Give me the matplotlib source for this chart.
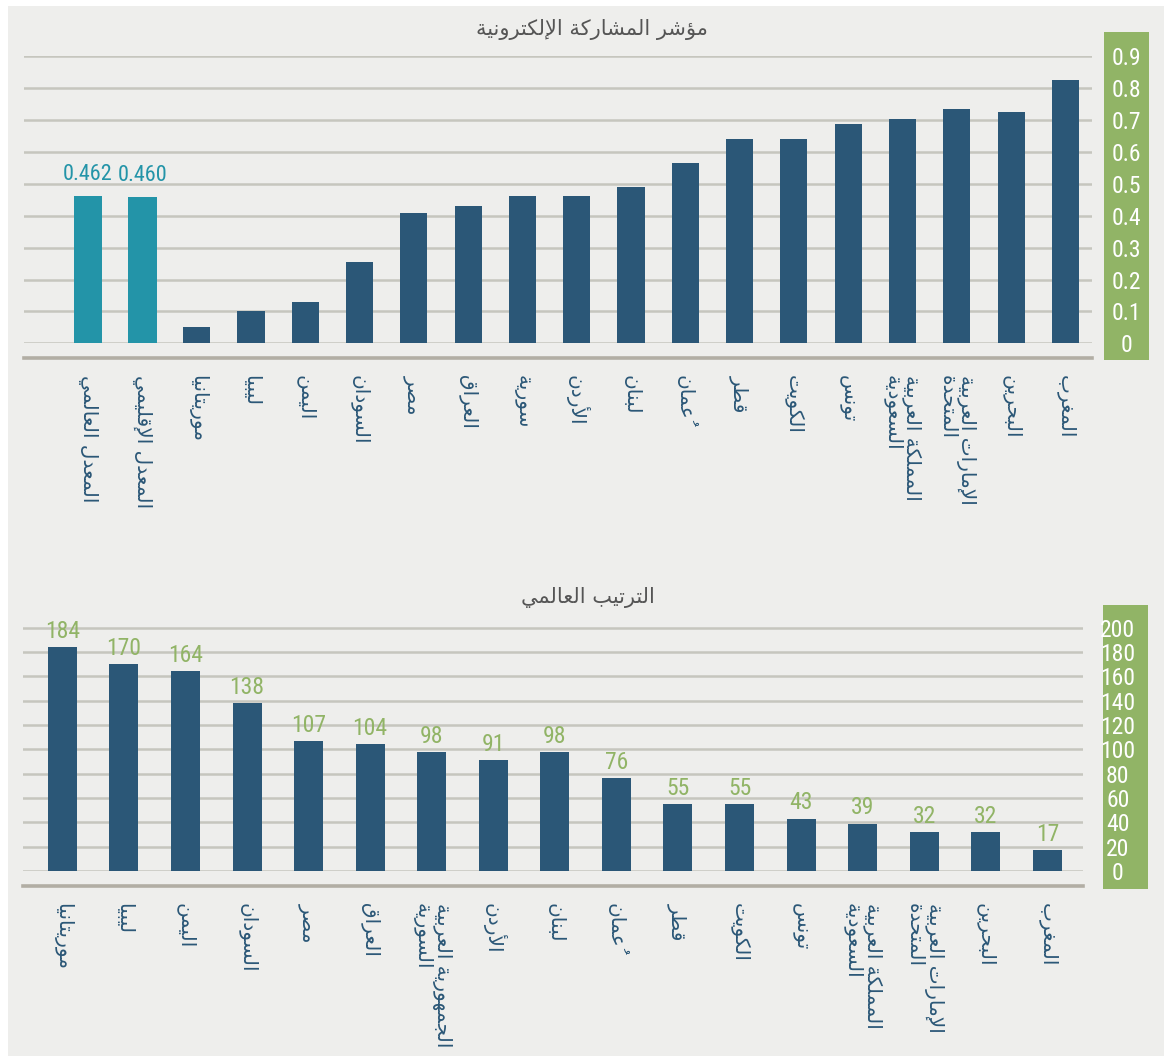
import matplotlib
matplotlib.use("Agg")
import matplotlib.pyplot as plt
from matplotlib import font_manager
from matplotlib.font_manager import FontProperties
from matplotlib.patches import Rectangle

# ---------- data ----------
top_title = "مؤشر المشاركة الإلكترونية"
top_labels = ["المعدل العالمي", "المعدل الإقليمي", "موريتانيا", "ليبيا", "اليمن",
              "السودان", "مصر", "العراق", "سورية", "الأردن", "لبنان", "عُمان",
              "قطر", "الكويت", "تونس", "المملكة العربية\nالسعودية",
              "الإمارات العربية\nالمتحدة", "البحرين", "المغرب"]
top_values = [0.462, 0.460, 0.051, 0.101, 0.129, 0.254, 0.408, 0.430, 0.461,
              0.461, 0.489, 0.564, 0.642, 0.642, 0.689, 0.705, 0.736, 0.724, 0.827]
top_is_average = [True, True] + [False] * 17
top_ticks = [0, 0.1, 0.2, 0.3, 0.4, 0.5, 0.6, 0.7, 0.8, 0.9]
top_tick_labels = ["0", "0.1", "0.2", "0.3", "0.4", "0.5", "0.6", "0.7", "0.8", "0.9"]

bottom_title = "الترتيب العالمي"
rank_labels = ["موريتانيا", "ليبيا", "اليمن", "السودان", "مصر", "العراق",
               "الجمهورية العربية\nالسورية", "الأردن", "لبنان", "عُمان", "قطر",
               "الكويت", "تونس", "المملكة العربية\nالسعودية",
               "الإمارات العربية\nالمتحدة", "البحرين", "المغرب"]
ranks = [184, 170, 164, 138, 107, 104, 98, 91, 98, 76, 55, 55, 43, 39, 32, 32, 17]
rank_ticks = [0, 20, 40, 60, 80, 100, 120, 140, 160, 180, 200]

# ---------- colours ----------
BG = "#EEEEEC"
GRID = "#C6C6BE"
AXIS = "#B2AEA4"
BAR = "#2B5777"
TEAL = "#2394A8"
GREEN = "#91B466"
TITLE = "#555555"

# ---------- minimal Arabic shaping (matplotlib has no bidi / joining) ----------
FORMS = {
    "ء": (0xFE80, 1), "آ": (0xFE81, 2), "أ": (0xFE83, 2), "ؤ": (0xFE85, 2),
    "إ": (0xFE87, 2), "ئ": (0xFE89, 4), "ا": (0xFE8D, 2), "ب": (0xFE8F, 4),
    "ة": (0xFE93, 2), "ت": (0xFE95, 4), "ث": (0xFE99, 4), "ج": (0xFE9D, 4),
    "ح": (0xFEA1, 4), "خ": (0xFEA5, 4), "د": (0xFEA9, 2), "ذ": (0xFEAB, 2),
    "ر": (0xFEAD, 2), "ز": (0xFEAF, 2), "س": (0xFEB1, 4), "ش": (0xFEB5, 4),
    "ص": (0xFEB9, 4), "ض": (0xFEBD, 4), "ط": (0xFEC1, 4), "ظ": (0xFEC5, 4),
    "ع": (0xFEC9, 4), "غ": (0xFECD, 4), "ف": (0xFED1, 4), "ق": (0xFED5, 4),
    "ك": (0xFED9, 4), "ل": (0xFEDD, 4), "م": (0xFEE1, 4), "ن": (0xFEE5, 4),
    "ه": (0xFEE9, 4), "و": (0xFEED, 2), "ى": (0xFEEF, 2), "ي": (0xFEF1, 4),
}
LAM_ALEF = {"آ": 0xFEF5, "أ": 0xFEF7, "إ": 0xFEF9, "ا": 0xFEFB}


def is_mark(c):
    return 0x064B <= ord(c) <= 0x0652


def shape_line(s):
    n = len(s)
    out = []
    prev_joins = False
    i = 0
    while i < n:
        c = s[i]
        if is_mark(c):
            if out:
                out[-1] += c
            else:
                out.append(c)
            i += 1
            continue
        if c not in FORMS:
            out.append(c)
            prev_joins = False
            i += 1
            continue
        j = i + 1
        while j < n and is_mark(s[j]):
            j += 1
        nxt = s[j] if j < n else None
        if c == "ل" and nxt in LAM_ALEF:
            out.append(chr(LAM_ALEF[nxt] + (1 if prev_joins else 0)) + s[i + 1:j])
            prev_joins = False
            i = j + 1
            continue
        iso, nf = FORMS[c]
        joins_next = nf == 4 and nxt in FORMS
        if nf == 1:
            code = iso
        elif prev_joins and joins_next:
            code = iso + 3
        elif prev_joins:
            code = iso + 1
        elif joins_next:
            code = iso + 2
        else:
            code = iso
        out.append(chr(code))
        prev_joins = joins_next
        i += 1
    return "".join(reversed(out))


def ar(s):
    return "\n".join(shape_line(line) for line in s.split("\n"))


# ---------- fonts ----------
def narrow_font(size):
    # look for any condensed / narrow regular face, else Roboto
    prefs = ["liberationsansnarrow-regular", "robotocondensed-regular",
             "dejavusanscondensed.ttf", "notosans-condensed.ttf",
             "opensans-condensed", "condensed", "narrow"]
    files = [f.fname for f in font_manager.fontManager.ttflist]
    for p in prefs:
        for fn in files:
            low = fn.lower().replace("_", "").replace(" ", "")
            if p in low and not any(k in low for k in ["bold", "italic", "oblique", "light", "thin", "black", "medium", "semi"]):
                return FontProperties(fname=fn, size=size)
    return FontProperties(family="Roboto", size=size - 1.5)


NUM = narrow_font(17)
NUM_LABEL = narrow_font(16)
AR_FONT = "DejaVu Sans"
AR_SIZE = 14.5

W, H = 1164, 1056
fig = plt.figure(figsize=(W / 100, H / 100), dpi=100, facecolor="white")
fig.add_artist(Rectangle((8 / W, 0), 1 - 8 / W, 1 - 6 / H, transform=fig.transFigure,
                         facecolor=BG, edgecolor="none", zorder=-10))


def style_axes(ax, ticks, tick_labels):
    ax.set_facecolor("none")
    for side in ["top", "left", "right"]:
        ax.spines[side].set_visible(False)
    ax.spines["bottom"].set_position(("outward", 10.6))
    ax.spines["bottom"].set_color(AXIS)
    ax.spines["bottom"].set_linewidth(2.6)
    ax.set_axisbelow(True)
    ax.yaxis.grid(True, color=GRID, linewidth=1.8)
    ax.set_yticks(ticks)
    ax.yaxis.tick_right()
    ax.set_yticklabels(tick_labels, fontproperties=NUM, color="white", ha="center")
    ax.tick_params(axis="y", length=0, pad=25)
    ax.tick_params(axis="x", length=0, pad=12.5)


# ---------- top chart ----------
ax1 = fig.add_axes([24 / W, 1 - 343.3 / H, (1092 - 24) / W, (343.3 - 55.7) / H])
fig.add_artist(Rectangle((1104 / W, 1 - 360 / H), 45 / W, 328 / H, transform=fig.transFigure,
                         facecolor=GREEN, edgecolor="none", zorder=-5))
x1 = list(range(len(top_values)))
colors1 = [TEAL if a else BAR for a in top_is_average]
widths1 = [0.53 if a else 0.5 for a in top_is_average]
ax1.bar(x1, top_values, width=widths1, color=colors1, zorder=3)
for xi, v, a in zip(x1, top_values, top_is_average):
    if a:
        ax1.annotate(f"{v:.3f}", (xi, v), xytext=(0, 8), textcoords="offset points",
                     ha="center", va="bottom", fontproperties=NUM_LABEL, color=TEAL)
ax1.set_xlim(-1.18, len(top_values) - 1 + 0.49)
ax1.set_ylim(0, 0.902)
style_axes(ax1, top_ticks, top_tick_labels)
ax1.set_xticks(x1)
ax1.set_xticklabels([ar(s) for s in top_labels], rotation=-90, ha="center", va="top",
                    multialignment="left", linespacing=1.0, fontsize=AR_SIZE,
                    family=AR_FONT, color=BAR)
fig.text(592 / W, 1 - 30 / H, ar(top_title), ha="center", va="center",
         fontsize=15, family=AR_FONT, color=TITLE)

# ---------- bottom chart ----------
ax2 = fig.add_axes([23 / W, 1 - 871 / H, (1083 - 23) / W, (871 - 626.3) / H])
fig.add_artist(Rectangle((1103 / W, 1 - 889 / H), 45 / W, 284 / H, transform=fig.transFigure,
                         facecolor=GREEN, edgecolor="none", zorder=-5))
x2 = list(range(len(ranks)))
ax2.bar(x2, ranks, width=0.47, color=BAR, zorder=3)
for xi, v in zip(x2, ranks):
    ax2.annotate(str(v), (xi, v), xytext=(0, 3), textcoords="offset points",
                 ha="center", va="bottom", fontproperties=NUM, color=GREEN)
ax2.set_xlim(-0.64, len(ranks) - 1 + 0.58)
ax2.set_ylim(0, 201)
style_axes(ax2, rank_ticks, [str(t) for t in rank_ticks])
ax2.set_xticks(x2)
ax2.set_xticklabels([ar(s) for s in rank_labels], rotation=-90, ha="center", va="top",
                    multialignment="left", linespacing=1.0, fontsize=AR_SIZE,
                    family=AR_FONT, color=BAR)
fig.text(588 / W, 1 - 597 / H, ar(bottom_title), ha="center", va="center",
         fontsize=15, family=AR_FONT, color=TITLE)

fig.savefig("out.png", dpi=100, facecolor=fig.get_facecolor())
